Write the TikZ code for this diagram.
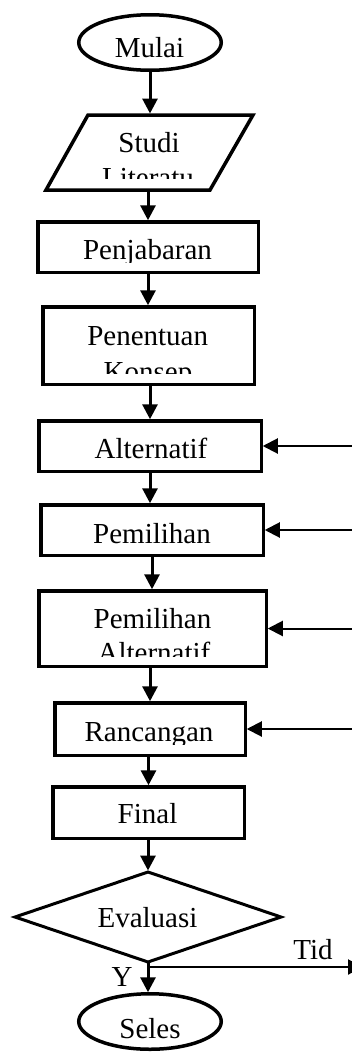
\documentclass[tikz,border=0pt]{standalone}
\usepackage{fontspec}
\setmainfont{Liberation Serif}
\usetikzlibrary{arrows.meta,calc,shapes.geometric}
\begin{document}
\begin{tikzpicture}[x=1pt,y=-1pt,
  every node/.style={font=\fontsize{29}{35}\selectfont, inner sep=0pt, outer sep=0pt},
  boxline/.style={draw, line width=3.5pt},
  procbox/.style={boxline, rectangle},
  term/.style={boxline, ellipse, minimum width=142.5pt, minimum height=55.5pt},
  lbl/.style={anchor=base},
  flow/.style={line width=3pt, shorten >=1.5pt, -{Triangle[length=15pt,width=15pt]}},
  sideflow/.style={line width=2pt, shorten >=1.5pt, -{Triangle[length=15pt,width=15pt]}},
]
\useasboundingbox (0,0) rectangle (352,1052);

% terminals
\node[term] (mulai) at (150,42.5) {};
\node[lbl] (mulaitxt) at (149.5,57) {Mulai};

% parallelogram
\node[minimum width=165pt, minimum height=75pt] (studi) at (149.5,152.5) {};
\draw[line width=3.5pt, line join=miter] (88,115) -- (253,115) -- (210,190) -- (46,190) -- cycle;
\begin{scope}
  \clip (0,100) rectangle (352,178);
  \node[lbl] (studitxt) at (149,152) {Studi};
  \node[lbl] (studitxtb) at (148,187) {Literatu};
\end{scope}

% process boxes
\node[procbox, minimum width=220.5pt, minimum height=50.5pt] (penjabaran) at (148,247) {};
\begin{scope}
  \clip (0,200) rectangle (352,262);
  \node[lbl] (penjabarantxt) at (147.5,259) {Penjabaran};
\end{scope}

\node[procbox, minimum width=211.5pt, minimum height=77.5pt] (penentuan) at (148.5,345.5) {};
\begin{scope}
  \clip (0,300) rectangle (352,373);
  \node[lbl] (penentuantxt) at (147.7,345) {Penentuan};
  \node[lbl] (penentuantxtb) at (148,381) {Konsep};
\end{scope}

\node[procbox, minimum width=222.5pt, minimum height=50.5pt] (alternatif) at (150,446) {};
\node[lbl] (alternatiftxt) at (151,458) {Alternatif};

\node[procbox, minimum width=222.5pt, minimum height=50.5pt] (pemilihan) at (152,530) {};
\node[lbl] (pemilihantxt) at (152,543) {Pemilihan};

\node[procbox, minimum width=227.5pt, minimum height=75.5pt] (pemalt) at (152.5,628.5) {};
\begin{scope}
  \clip (0,580) rectangle (352,656);
  \node[lbl] (pemalttxt) at (152.5,628) {Pemilihan};
  \node[lbl] (pemalttxtb) at (154,662) {Alternatif};
\end{scope}

\node[procbox, minimum width=190.5pt, minimum height=52.5pt] (rancangan) at (150,729) {};
\begin{scope}
  \clip (0,690) rectangle (352,744);
  \node[lbl] (rancangantxt) at (149,741) {Rancangan};
\end{scope}

\node[procbox, minimum width=191.5pt, minimum height=51.5pt] (final) at (148.5,812.5) {};
\node[lbl] (finaltxt) at (147.5,823) {Final};

% decision
\node[draw, line width=3pt, diamond, minimum width=266pt, minimum height=90pt] (eval) at (148,917) {};
\node[lbl] (evaltxt) at (147.5,927) {Evaluasi};

\node[term] (seles) at (150,1021.5) {};
\node[lbl] (selestxt) at (150,1038) {Seles};

% vertical connectors
\draw[flow] (mulai.south) -- (mulai.south |- studi.north);
\draw[flow] (studi.south -| penjabaran.north) -- (penjabaran.north);
\draw[flow] (penjabaran.south) -- (penjabaran.south |- penentuan.north);
\draw[flow] (penentuan.south -| alternatif.north) -- (alternatif.north);
\draw[flow] (alternatif.south) -- (alternatif.south |- pemilihan.north);
\draw[flow] (pemilihan.south) -- (pemilihan.south |- pemalt.north);
\draw[flow] (pemalt.south -| rancangan.north) -- (rancangan.north);
\draw[flow] (rancangan.south -| final.north) -- (final.north);
\draw[flow] (final.south -| eval.north) -- (eval.north);
\draw[flow] (eval.south) -- (eval.south |- seles.north);

% side connectors
\coordinate (rightedge) at (360,0);
\draw[sideflow] (rightedge |- alternatif.east) -- (alternatif.east);
\draw[sideflow] (rightedge |- pemilihan.east) -- (pemilihan.east);
\draw[sideflow] (rightedge |- pemalt.east) -- (pemalt.east);
\draw[sideflow] (rightedge |- rancangan.east) -- (rancangan.east);

% no branch
\coordinate (tidA) at (148,967);
\coordinate (tidB) at (363,967);
\draw[sideflow, shorten >=0pt] (tidA) -- (tidB);
\node[lbl] (tidtxt) at (313,959) {Tid};
\node[lbl] (ytxt) at (122,986) {Y};
\end{tikzpicture}
\end{document}
